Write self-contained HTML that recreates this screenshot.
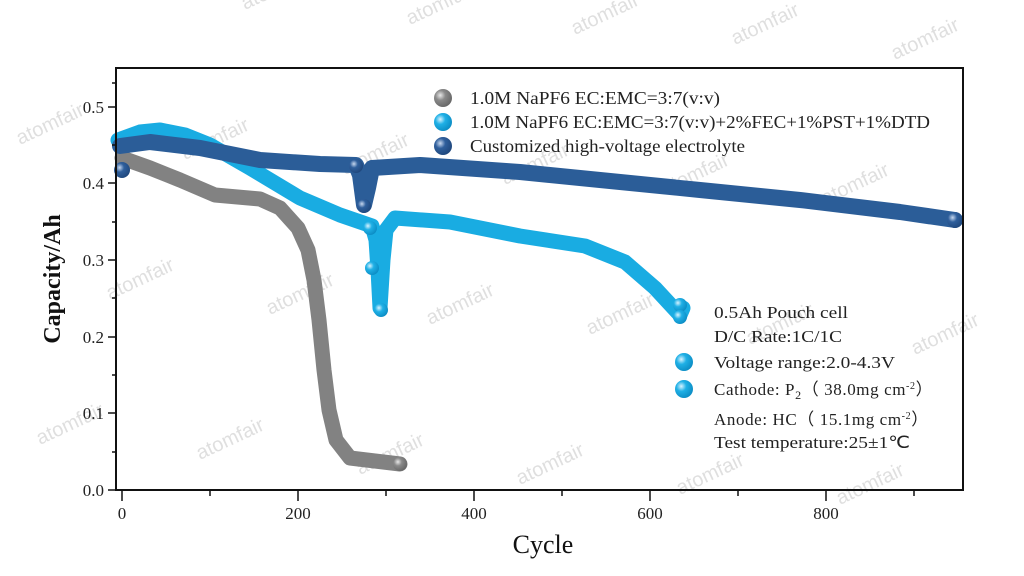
<!DOCTYPE html>
<html><head><meta charset="utf-8"><style>
html,body{margin:0;padding:0;background:#fff;}
svg{display:block;font-family:"Liberation Serif",serif;}
</style></head><body>
<svg width="1024" height="576" viewBox="0 0 1024 576" xmlns="http://www.w3.org/2000/svg">
<defs>
<radialGradient id="gg" cx="0.35" cy="0.35" r="0.7"><stop offset="0" stop-color="#e8e8e8"/><stop offset="0.4" stop-color="#8a8a8a"/><stop offset="1" stop-color="#666"/></radialGradient>
<radialGradient id="gl" cx="0.35" cy="0.35" r="0.7"><stop offset="0" stop-color="#d8f3ff"/><stop offset="0.4" stop-color="#1fb0e6"/><stop offset="1" stop-color="#0b8cc4"/></radialGradient>
<radialGradient id="gd" cx="0.35" cy="0.35" r="0.7"><stop offset="0" stop-color="#c8d8ee"/><stop offset="0.4" stop-color="#2f5f9c"/><stop offset="1" stop-color="#1f477c"/></radialGradient>
</defs>
<g fill="#d8d8d8" font-family="Liberation Sans,sans-serif" font-size="20" opacity="0.8">
<text transform="translate(245,10) rotate(-25)">atomfair</text>
<text transform="translate(410,25) rotate(-25)">atomfair</text>
<text transform="translate(575,35) rotate(-25)">atomfair</text>
<text transform="translate(735,45) rotate(-25)">atomfair</text>
<text transform="translate(895,60) rotate(-25)">atomfair</text>
<text transform="translate(20,145) rotate(-25)">atomfair</text>
<text transform="translate(185,160) rotate(-25)">atomfair</text>
<text transform="translate(345,175) rotate(-25)">atomfair</text>
<text transform="translate(505,185) rotate(-25)">atomfair</text>
<text transform="translate(665,195) rotate(-25)">atomfair</text>
<text transform="translate(825,205) rotate(-25)">atomfair</text>
<text transform="translate(110,300) rotate(-25)">atomfair</text>
<text transform="translate(270,315) rotate(-25)">atomfair</text>
<text transform="translate(430,325) rotate(-25)">atomfair</text>
<text transform="translate(590,335) rotate(-25)">atomfair</text>
<text transform="translate(750,345) rotate(-25)">atomfair</text>
<text transform="translate(915,355) rotate(-25)">atomfair</text>
<text transform="translate(40,445) rotate(-25)">atomfair</text>
<text transform="translate(200,460) rotate(-25)">atomfair</text>
<text transform="translate(360,475) rotate(-25)">atomfair</text>
<text transform="translate(520,485) rotate(-25)">atomfair</text>
<text transform="translate(680,495) rotate(-25)">atomfair</text>
<text transform="translate(840,505) rotate(-25)">atomfair</text>
</g>
<g fill="none" stroke-linecap="round" stroke-linejoin="round">
<polyline stroke="#828282" stroke-width="15" points="122,158 150,168 180,180 215,195 260,199 280,208 298,228 308,250 314,280 319,320 324,370 329,410 336,440 350,458 400,464"/>
<polyline stroke="#19ace2" stroke-width="15" points="118,140 140,132 160,130 185,135 210,145 250,168 300,198 340,215 372,226 376,240 378,270 380,308 383,260 386,230 395,218 450,222 520,236 585,246 625,262 655,288 680,315 683,308"/>
<polyline stroke="#2b5d98" stroke-width="16" points="120,146 150,142 200,148 260,160 320,164 356,165 360,175 364,205 368,188 372,168 420,165 520,172 600,180 700,190 800,200 900,212 955,220"/>
</g>
<g>
<circle cx="122" cy="170" r="8" fill="url(#gd)"/>
<circle cx="356" cy="166" r="7" fill="url(#gd)"/>
<circle cx="364" cy="206" r="7" fill="url(#gd)"/>
<circle cx="955" cy="220" r="8" fill="url(#gd)"/>
<circle cx="370" cy="228" r="7" fill="url(#gl)"/>
<circle cx="381" cy="310" r="7" fill="url(#gl)"/>
<circle cx="372" cy="268" r="7" fill="url(#gl)"/>
<circle cx="680" cy="305" r="7" fill="url(#gl)"/>
<circle cx="680" cy="317" r="7" fill="url(#gl)"/>
<circle cx="400" cy="464" r="7" fill="url(#gg)"/>
</g>
<rect x="116" y="68" width="847" height="422" fill="none" stroke="#111" stroke-width="2"/>
<g stroke="#111" stroke-width="1.5">
<line x1="108" y1="490" x2="116" y2="490"/><line x1="108" y1="413" x2="116" y2="413"/><line x1="108" y1="337" x2="116" y2="337"/><line x1="108" y1="260" x2="116" y2="260"/><line x1="108" y1="183" x2="116" y2="183"/><line x1="108" y1="107" x2="116" y2="107"/>
<line x1="112" y1="452" x2="116" y2="452"/><line x1="112" y1="375" x2="116" y2="375"/><line x1="112" y1="298" x2="116" y2="298"/><line x1="112" y1="222" x2="116" y2="222"/><line x1="112" y1="145" x2="116" y2="145"/><line x1="112" y1="83" x2="116" y2="83"/>
<line x1="122" y1="490" x2="122" y2="501"/><line x1="298" y1="490" x2="298" y2="501"/><line x1="474" y1="490" x2="474" y2="501"/><line x1="650" y1="490" x2="650" y2="501"/><line x1="826" y1="490" x2="826" y2="501"/>
<line x1="210" y1="490" x2="210" y2="496"/><line x1="386" y1="490" x2="386" y2="496"/><line x1="562" y1="490" x2="562" y2="496"/><line x1="738" y1="490" x2="738" y2="496"/><line x1="914" y1="490" x2="914" y2="496"/>
</g>
<g font-size="17" fill="#222" text-anchor="end">
<text x="104" y="496">0.0</text><text x="104" y="419">0.1</text><text x="104" y="343">0.2</text><text x="104" y="266">0.3</text><text x="104" y="189">0.4</text><text x="104" y="113">0.5</text>
</g>
<g font-size="17" fill="#222" text-anchor="middle">
<text x="122" y="519">0</text><text x="298" y="519">200</text><text x="474" y="519">400</text><text x="650" y="519">600</text><text x="826" y="519">800</text>
</g>
<text x="543" y="553" font-size="26" text-anchor="middle" fill="#111">Cycle</text>
<text transform="translate(60,279) rotate(-90)" font-size="24" font-weight="bold" text-anchor="middle" fill="#111">Capacity/Ah</text>
<circle cx="443" cy="98" r="9" fill="url(#gg)"/>
<circle cx="443" cy="122" r="9" fill="url(#gl)"/>
<circle cx="443" cy="146" r="9" fill="url(#gd)"/>
<g font-size="18" fill="#222">
<text x="470" y="104" textLength="250" lengthAdjust="spacingAndGlyphs">1.0M NaPF6  EC:EMC=3:7(v:v)</text>
<text x="470" y="128" textLength="460" lengthAdjust="spacingAndGlyphs">1.0M NaPF6  EC:EMC=3:7(v:v)+2%FEC+1%PST+1%DTD</text>
<text x="470" y="152" textLength="275" lengthAdjust="spacingAndGlyphs">Customized high-voltage electrolyte</text>
</g>
<g font-size="17" fill="#222">
<text x="714" y="318" textLength="134" lengthAdjust="spacingAndGlyphs">0.5Ah Pouch cell</text>
<text x="714" y="342" textLength="128" lengthAdjust="spacingAndGlyphs">D/C Rate:1C/1C</text>
<text x="714" y="368" textLength="181" lengthAdjust="spacingAndGlyphs">Voltage range:2.0-4.3V</text>
<text x="714" y="395" letter-spacing="0.6">Cathode: P<tspan font-size="12" dy="4">2</tspan><tspan dy="-4">（ 38.0mg cm</tspan><tspan font-size="10" dy="-6">-2</tspan><tspan dy="6">）</tspan></text>
<text x="714" y="425" letter-spacing="0.6">Anode: HC（ 15.1mg cm<tspan font-size="10" dy="-6">-2</tspan><tspan dy="6">）</tspan></text>
<text x="714" y="448" textLength="196" lengthAdjust="spacingAndGlyphs">Test temperature:25±1℃</text>
</g>
<circle cx="684" cy="362" r="9" fill="url(#gl)"/>
<circle cx="684" cy="389" r="9" fill="url(#gl)"/>
</svg>
</body></html>
